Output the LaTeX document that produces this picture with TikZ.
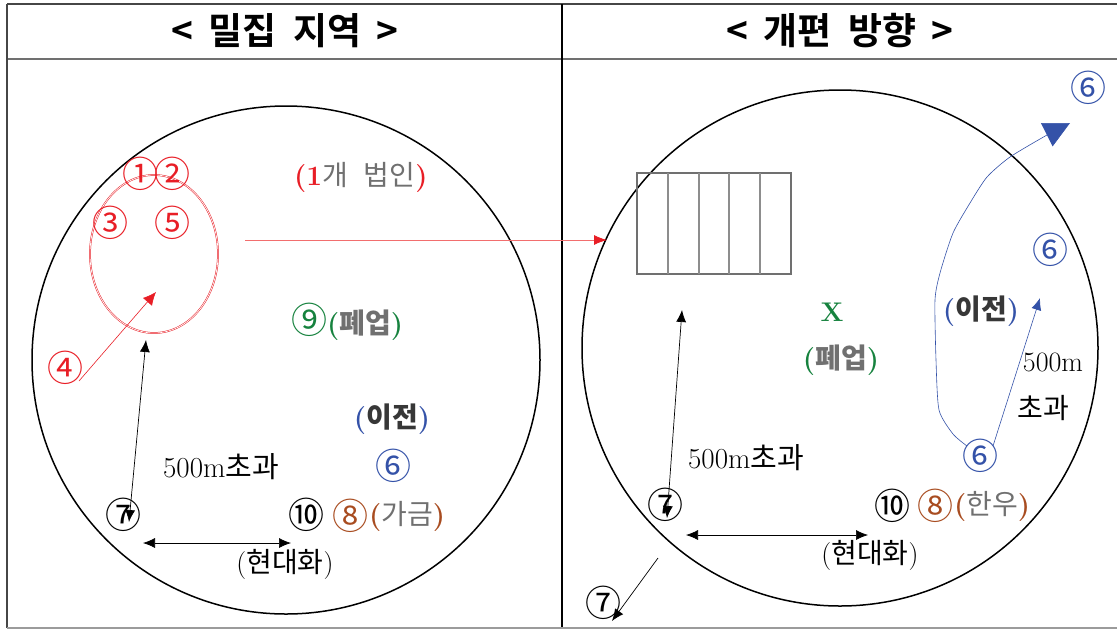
\documentclass[tikz,border=0pt]{standalone}
\usepackage{fontspec}
\usetikzlibrary{arrows.meta}
\newfontfamily\kr{Noto Sans CJK KR}
\newfontfamily\krb{Noto Sans CJK KR Bold}
\definecolor{cred}{RGB}{232,30,38}
\definecolor{cpink}{RGB}{242,110,110}
\definecolor{cgreen}{RGB}{22,130,62}
\definecolor{cblue}{RGB}{52,82,168}
\definecolor{cbrown}{RGB}{168,76,32}
\definecolor{cgray}{RGB}{112,112,112}
\definecolor{cdark}{RGB}{55,55,55}
\definecolor{cframe}{RGB}{70,70,70}
\tikzset{
  num/.style={font=\kr\fontsize{36}{36}\selectfont},
  lbl/.style={font=\fontsize{28}{28}\selectfont},
  hdr/.style={font=\krb\fontsize{37}{37}\selectfont},
  bigcircle/.style={draw=black, line width=1.5pt},
  blackarrow/.style={black, line width=0.7pt, {Latex[length=12pt,width=10pt]}-{Latex[length=12pt,width=10pt]}},
}
\begin{document}
\begin{tikzpicture}[x=1pt,y=-1pt, every node/.style={inner sep=0pt, outer sep=0pt}]
\useasboundingbox (0,0) rectangle (1117,630);
% frame
\draw[cframe, line width=1.6pt] (7,4) -- (1117,4);
\draw[cgray, line width=2pt] (7,59) -- (1117,59);
\draw[cframe, line width=2pt] (7,4) -- (7,628);
\draw[black, line width=1.2pt] (562,4) -- (562,628);
\draw[cgray!70, line width=1.5pt] (7,628) -- (1117,628);
% headers
\node[hdr] (h1) at (285,31) {<\hspace{15pt}밀집\hspace{17pt}지역\hspace{15pt}>};
\node[hdr] (h2) at (840,31) {<\hspace{15pt}개편\hspace{17pt}방향\hspace{15pt}>};
% circles
\node[bigcircle, circle, minimum size=508pt] (cl) at (286,360) {};
\node[bigcircle, circle, minimum size=516pt] (cr) at (840,348) {};

% ---------- left panel ----------
\draw[cred, line width=0.5pt, double=white, double distance=0.7pt] (154,254) ellipse [x radius=64, y radius=79];
\node[num, text=cred] (n1) at (140,174) {①};
\node[num, text=cred] (n2) at (172,174) {②};
\node[num, text=cred] (n3) at (110,223) {③};
\node[num, text=cred] (n5) at (172,223) {⑤};
\node[num, text=cred] (n4) at (65,368) {④};
\coordinate (ein) at (156,292);
\draw[cred, line width=0.6pt, -{Latex[length=13pt,width=12pt]}] (79,381) -- (ein);
\node[lbl, anchor=west] (corp) at (294,177) {\textcolor{cred}{\bfseries (1}\textcolor{cgray}{\kr 개\hspace{16pt}법인}\textcolor{cred}{\bfseries )}};
\coordinate (rs) at (245,240);
\coordinate (re) at (607,240);
\draw[cpink, line width=0.8pt, -{Latex[length=13pt,width=10pt,color=cred]}] (rs) -- (re);
\node[lbl, anchor=west] (closeL) at (291,322) {\textcolor{cgreen}{\kr\fontsize{36}{36}\selectfont ⑨}\textcolor{cgreen}{\bfseries (}\textcolor{cgray}{\kr\bfseries 폐업}\textcolor{cgreen}{\bfseries )}};
\node[lbl] (movL) at (392,419) {\textcolor{cblue}{\bfseries (}\textcolor{cdark}{\kr\bfseries 이전}\textcolor{cblue}{\bfseries )}};
\node[num, text=cblue] (n6L) at (393,466) {⑥};
\node[lbl, font=\fontsize{29}{29}\selectfont] (d500L) at (221,467) {500m{\kr 초과}};
\node[num] (n7L) at (123,515) {⑦};
\coordinate (vtL) at (146,340);
\coordinate (vbL) at (129,522);
\draw[blackarrow] (vtL) -- (vbL);
\node[num] (n10L) at (306,515) {⑩};
\node[num, text=cbrown] (n8L) at (350,516) {⑧};
\node[lbl, anchor=west] (poultry) at (369,516) {\textcolor{cbrown}{\bfseries (}\textcolor{cgray}{\kr 가금}\textcolor{cbrown}{\bfseries )}};
\coordinate (haL) at (143,543);
\coordinate (hbL) at (291,543);
\draw[blackarrow] (haL) -- (hbL);
\node[lbl] (modL) at (285,564) {(\kr 현대화\rmfamily)};

% ---------- right panel ----------
\draw[cgray, line width=2.5pt] (637,173) rectangle (791,274);
\foreach \xx in {668,699,729,760} \draw[cgray!80, line width=1.1pt] (\xx,173) -- (\xx,274);
\node[lbl, text=cgreen, font=\bfseries\fontsize{27}{27}\selectfont] (xmark) at (832,312) {X};
\node[lbl] (closeR) at (841,360) {\textcolor{cgreen}{\bfseries (}\textcolor{cgray}{\kr\bfseries 폐업}\textcolor{cgreen}{\bfseries )}};
\node[lbl] (movR) at (981,311) {\textcolor{cblue}{\bfseries (}\textcolor{cdark}{\kr\bfseries 이전}\textcolor{cblue}{\bfseries )}};
\node[num, text=cblue] (n6top) at (1088,88) {⑥};
\node[num, text=cblue] (n6mid) at (1050,250) {⑥};
\node[num, text=cblue] (n6bot) at (980,456) {⑥};
\node[lbl] (m500R) at (1053,362) {500m};
\node[lbl] (excR) at (1043,408) {\kr 초과};
\coordinate (bt) at (1040,298);
\draw[cblue, line width=0.6pt, -{Latex[length=12pt,width=10pt]}] (993,446) -- (bt);
\coordinate (ctip) at (1070,123);
\draw[cblue, line width=0.6pt, -{Triangle[length=26pt,width=26pt]}]
  plot[smooth, tension=0.4] coordinates {(967,446) (953,434) (939,410) (936,360) (935,300) (940,273) (953,233) (970,203) (987,177) (1010,157) (1047,135) (ctip)};
\node[lbl, font=\fontsize{29}{29}\selectfont] (d500R) at (746,458) {500m{\kr 초과}};
\node[num] (n7R) at (665,505) {⑦};
\coordinate (vtR) at (682,310);
\coordinate (vbR) at (667,518);
\draw[blackarrow] (vtR) -- (vbR);
\node[num] (n10R) at (892,506) {⑩};
\node[num, text=cbrown] (n8R) at (935,506) {⑧};
\node[lbl, anchor=west] (cattle) at (954,506) {\textcolor{cbrown}{\bfseries (}\textcolor{cgray}{\kr 한우}\textcolor{cbrown}{\bfseries )}};
\coordinate (haR) at (686,535);
\coordinate (hbR) at (868,535);
\draw[blackarrow] (haR) -- (hbR);
\node[lbl] (modR) at (870,555) {(\kr 현대화\rmfamily)};
\node[num] (n7out) at (603,603) {⑦};
\coordinate (os) at (658,558);
\coordinate (oe) at (612,621);
\draw[black, line width=0.7pt, -{Latex[length=12pt,width=10pt]}] (os) -- (oe);
\end{tikzpicture}
\end{document}
